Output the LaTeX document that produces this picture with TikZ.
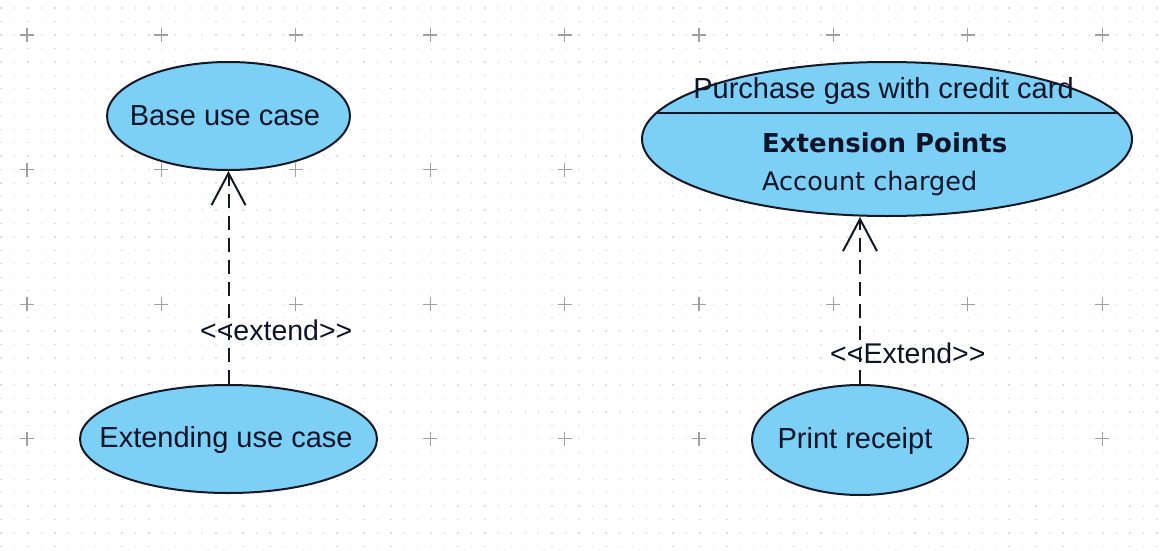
\documentclass[tikz,border=0pt]{standalone}
\usepackage{fontspec}
\setmainfont{Liberation Sans}
\newfontfamily\dvs{DejaVu Sans}
\usetikzlibrary{shapes.geometric,arrows.meta}

\definecolor{ucfill}{RGB}{124,207,245}
\definecolor{ucline}{RGB}{20,24,36}
\definecolor{uctext}{RGB}{14,20,40}
\definecolor{gridplus}{RGB}{160,160,160}
\definecolor{griddot}{RGB}{222,222,222}

\tikzset{
  usecase/.style={ellipse, draw=ucline, fill=ucfill, line width=2pt, inner sep=0pt},
  lbl/.style={inner sep=0pt, text=uctext, font=\fontsize{29}{34}\selectfont},
  eplbl/.style={inner sep=0pt, text=uctext, anchor=base west},
  extendarrow/.style={draw=ucline, line width=2pt, dash pattern=on 14pt off 8pt,
    -{Straight Barb[length=32pt, width=34pt, line width=2pt]}},
  plusmark/.style={draw=gridplus, line width=1.2pt}
}

\begin{document}
\begin{tikzpicture}[x=1pt, y=-1pt]
  % canvas
  \fill[white] (0,0) rectangle (1161,551);
  \useasboundingbox (0,0) rectangle (1161,551);

  % dotted drawing grid
  \foreach \k in {-2,...,38} {
    \draw[griddot, line width=1.3pt, dash pattern=on 1.3pt off 12.14pt]
      (0.45,35+13.46*\k) -- (1161,35+13.46*\k);
  }
  % major grid crosses
  \foreach \i in {0,...,8} {
    \foreach \j in {0,...,3} {
      \draw[plusmark] (27+134.4*\i-7,35+134.6*\j) -- (27+134.4*\i+7,35+134.6*\j)
                      (27+134.4*\i,35+134.6*\j-7) -- (27+134.4*\i,35+134.6*\j+7);
    }
  }

  % use cases
  \node[usecase, minimum width=243pt, minimum height=108pt] (base) at (228.5,116) {};
  \node[usecase, minimum width=297pt, minimum height=108pt] (extending) at (228.5,439) {};
  \node[usecase, minimum width=490pt, minimum height=154pt] (purchase) at (887,139) {};
  \node[usecase, minimum width=216pt, minimum height=110pt] (receipt) at (860,440) {};

  % compartment line of the extension-point use case
  \begin{scope}
    \clip (887,139) ellipse [x radius=244, y radius=76];
    \draw[ucline, line width=2pt] (630,113) -- (1150,113);
  \end{scope}

  % extend relationships
  \draw[extendarrow] (extending.north) -- (base.south);
  \draw[extendarrow] (receipt.north) -- (receipt.north |- purchase.south);

  % labels
  \node[lbl, anchor=base] (tbase) at (225,125) {Base use case};
  \node[lbl, anchor=base] (text) at (226,447) {Extending use case};
  \node[lbl, anchor=base] (tpurchase) at (883.5,98) {Purchase gas with credit card};
  \node[lbl, anchor=base] (treceipt) at (855,448) {Print receipt};
  \node[eplbl, font=\dvs\bfseries\fontsize{26}{30}\selectfont] (tep) at (762,152) {Extension Points};
  \node[eplbl, font=\dvs\fontsize{25.5}{30}\selectfont] (tacc) at (762,190) {Account charged};
  \node[lbl, anchor=base west, font=\fontsize{28.5}{34}\selectfont] (ext1) at (200,340) {<{}<extend>{}>};
  \node[lbl, anchor=base west, font=\fontsize{28.5}{34}\selectfont] (ext2) at (830,363) {<{}<Extend>{}>};
\end{tikzpicture}
\end{document}
